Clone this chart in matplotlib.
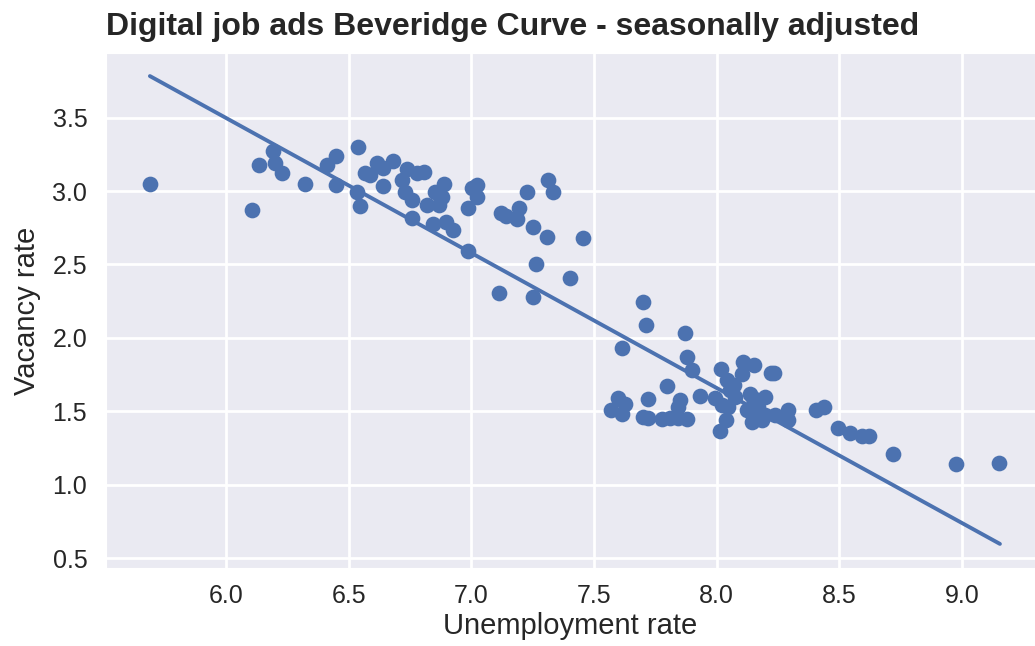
import numpy as np
import matplotlib
matplotlib.use("Agg")
import matplotlib.pyplot as plt
import seaborn as sns

# unemployment rate (x) and vacancy rate (y)
unemployment = [
    5.69, 6.105, 6.136, 6.19, 6.20, 6.227, 6.322, 6.41, 6.45, 6.448,
    6.54, 6.535, 6.546, 6.567, 6.587, 6.614, 6.641, 6.641, 6.682, 6.739,
    6.716, 6.73, 6.757, 6.757, 6.777, 6.807, 6.818, 6.843, 6.852, 6.87,
    6.889, 6.879, 6.899, 6.927, 6.988, 7.002, 7.022, 7.022, 6.988, 7.12,
    7.14, 7.194, 7.188, 7.228, 7.253, 7.307, 7.314, 7.334, 7.457, 7.264,
    7.402, 7.114, 7.253, 7.70, 7.712, 7.616, 7.871, 7.878, 7.898, 7.799,
    7.722, 7.599, 7.627, 7.568, 7.613, 7.70, 7.72, 7.776, 7.81, 7.851,
    7.844, 7.844, 7.878, 7.932, 8.016, 8.109, 8.102, 8.041, 7.993, 8.021,
    8.038, 8.014, 8.054, 8.152, 8.22, 8.234, 8.048, 8.075, 8.136, 8.15,
    8.197, 8.122, 8.156, 8.17, 8.184, 8.143, 8.197, 8.238, 8.292, 8.292,
    8.405, 8.438, 8.496, 8.544, 8.591, 8.623, 8.718, 8.975, 9.151, 8.07,
]
vacancy = [
    3.05, 2.87, 3.18, 3.27, 3.19, 3.125, 3.05, 3.18, 3.24, 3.04,
    3.30, 2.995, 2.90, 3.125, 3.11, 3.19, 3.155, 3.035, 3.205, 3.15,
    3.075, 2.995, 2.94, 2.815, 3.12, 3.13, 2.905, 2.775, 2.99, 2.905,
    3.05, 2.96, 2.79, 2.735, 2.882, 3.018, 3.041, 2.961, 2.59, 2.85,
    2.83, 2.887, 2.81, 2.995, 2.753, 2.689, 3.075, 2.995, 2.682, 2.503,
    2.406, 2.308, 2.277, 2.243, 2.088, 1.934, 2.032, 1.873, 1.782, 1.673,
    1.585, 1.59, 1.549, 1.51, 1.481, 1.465, 1.458, 1.447, 1.454, 1.578,
    1.533, 1.454, 1.447, 1.605, 1.79, 1.839, 1.755, 1.714, 1.59, 1.544,
    1.442, 1.366, 1.646, 1.816, 1.76, 1.76, 1.533, 1.60, 1.62, 1.59,
    1.60, 1.51, 1.499, 1.533, 1.442, 1.431, 1.476, 1.476, 1.51, 1.442,
    1.51, 1.53, 1.386, 1.356, 1.335, 1.335, 1.209, 1.14, 1.148, 1.68,
]

# fitted trend line as shown in the chart (ends at the data range)
trend_x = [5.69, 9.155]
trend_y = [3.782, 0.599]

sns.set_style("darkgrid")
plt.rcParams['font.family'] = ['Liberation Sans', 'DejaVu Sans']

fig = plt.figure(figsize=(10.35, 6.46), dpi=100)
ax = fig.add_axes([106 / 1035, 1 - 568 / 646, 1 - 106 / 1035, (568 - 53) / 646])

blue = "#4C72B0"
ax.scatter(unemployment, vacancy, s=128, color=blue, linewidths=0, zorder=3)
ax.plot(trend_x, trend_y, color=blue, lw=2.8, solid_capstyle='round', zorder=4)

ax.set_xlim(5.511, 9.298)
ax.set_ylim(0.435, 3.939)
ax.set_xticks([6.0, 6.5, 7.0, 7.5, 8.0, 8.5, 9.0])
ax.set_yticks([0.5, 1.0, 1.5, 2.0, 2.5, 3.0, 3.5])
ax.tick_params(axis="x", labelsize=18, colors="#262626", pad=8)
ax.tick_params(axis="y", labelsize=18, colors="#262626", pad=10)
ax.grid(True, color="white", lw=2)

ax.set_xlabel("Unemployment rate", fontsize=21, color="#262626", labelpad=3)
ax.set_ylabel("Vacancy rate", fontsize=21, color="#262626", labelpad=8)
ax.set_title("Digital job ads Beveridge Curve - seasonally adjusted",
             loc="left", fontsize=23, fontweight="bold", color="#262626", pad=13)

fig.savefig("out.png", dpi=100)
